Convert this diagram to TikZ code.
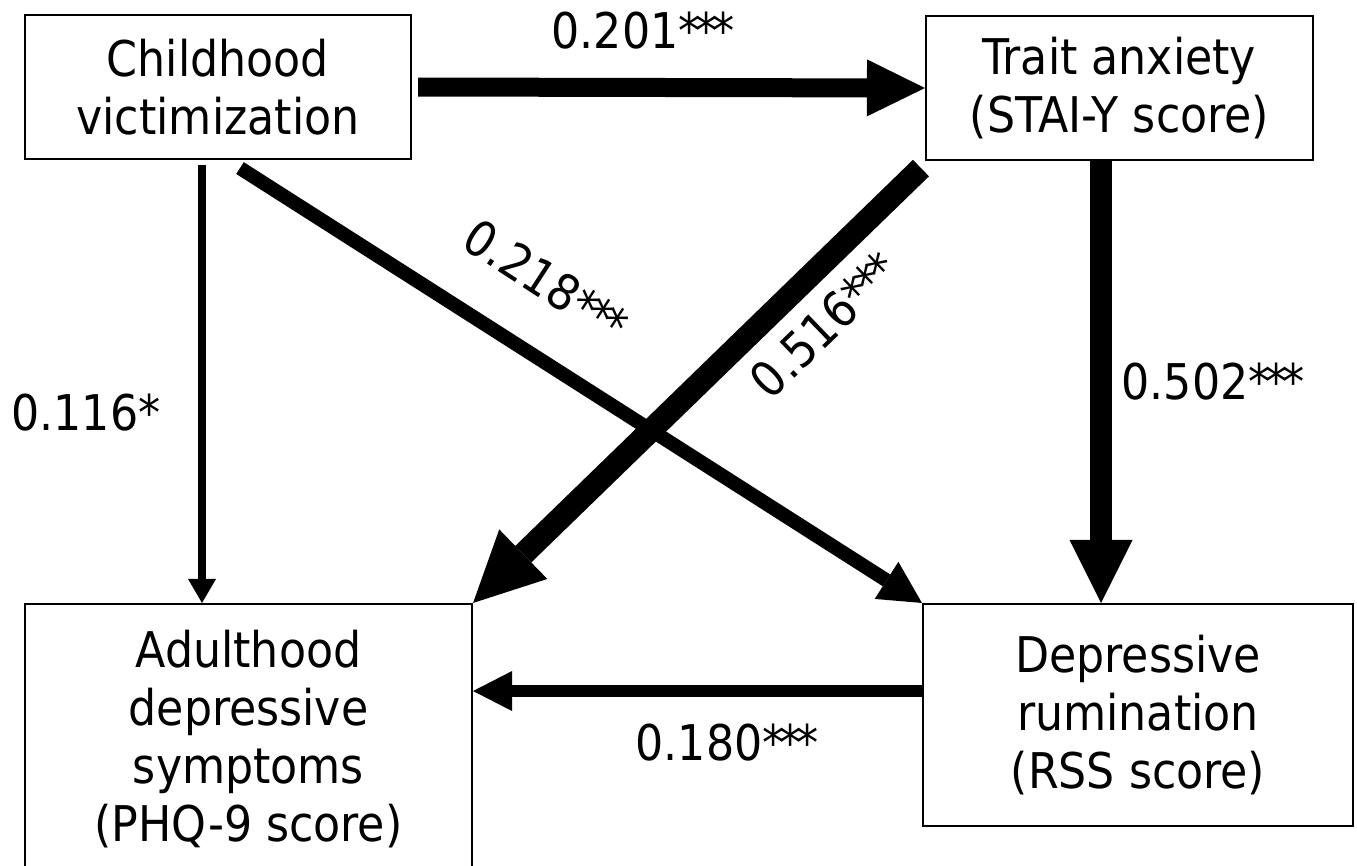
\documentclass[tikz,border=0pt]{standalone}
\usepackage{fontspec}
\setmainfont{DejaVu Sans Condensed}
\usetikzlibrary{arrows.meta}

\newcommand{\threestar}{*\kern-1.5pt*\kern-1.5pt*}

\begin{document}
\begin{tikzpicture}[
        font=\fontsize{14}{16.5}\selectfont,
        box/.style={draw, line width=0.6pt, align=center, inner sep=0pt},
        arr/.style n args={3}{line width=#1, -{Triangle[length=#2, width=#3, line width=0pt]}}
    ]
        \useasboundingbox (0, 0) rectangle (13.57, -8.65);
        
        \node[box, minimum width=3.86cm, minimum height=1.44cm] (cv) at (2.18, -0.87) {Childhood\\victimization};
        \node[box, minimum width=3.87cm, minimum height=1.44cm] (ta) at (11.195, -0.88) {Trait anxiety\\(STAI-Y score)};
        \node[box, minimum width=4.47cm, minimum height=2.70cm] (ad) at (2.485, -7.39) {Adulthood\\depressive\\symptoms\\(PHQ-9 score)};
        \node[box, minimum width=4.30cm, minimum height=2.22cm] (dr) at (11.38, -7.15) {Depressive\\rumination\\(RSS score)};
        
        \draw[arr={0.19cm}{0.58cm}{0.57cm}] ([xshift=0.06cm]cv.east) -- (ta.west);
        \draw[arr={0.08cm}{0.24cm}{0.28cm}] ([xshift=-0.16cm, yshift=-0.05cm]cv.south) -- ([xshift=-0.16cm]cv.south |- ad.north);
        \draw[arr={0.14cm}{0.42cm}{0.44cm}] ([xshift=0.22cm, yshift=-0.08cm]cv.south) -- (dr.north west);
        \draw[arr={0.23cm}{0.70cm}{0.69cm}] ([xshift=-0.04cm, yshift=-0.07cm]ta.south west) -- (ad.north east);
        \draw[arr={0.22cm}{0.63cm}{0.63cm}] ([xshift=-0.185cm]ta.south) -- ([xshift=-0.185cm]ta.south |- dr.north);
        \draw[arr={0.12cm}{0.39cm}{0.40cm}] ([yshift=0.24cm]dr.west) -- ([yshift=0.24cm]dr.west -| ad.east);
        
        \node (l201) at (6.43, -0.31) {0.201\threestar};
        \node (l116) at (0.86, -4.13) {0.116*};
        \node[rotate=-33] (l218) at (5.46, -2.81) {0.218\threestar};
        \node[rotate=44] (l516) at (8.24, -3.25) {0.516\threestar};
        \node (l502) at (12.13, -3.82) {0.502\threestar};
        \node (l180) at (7.27, -7.43) {0.180\threestar};
\end{tikzpicture}
\end{document}
